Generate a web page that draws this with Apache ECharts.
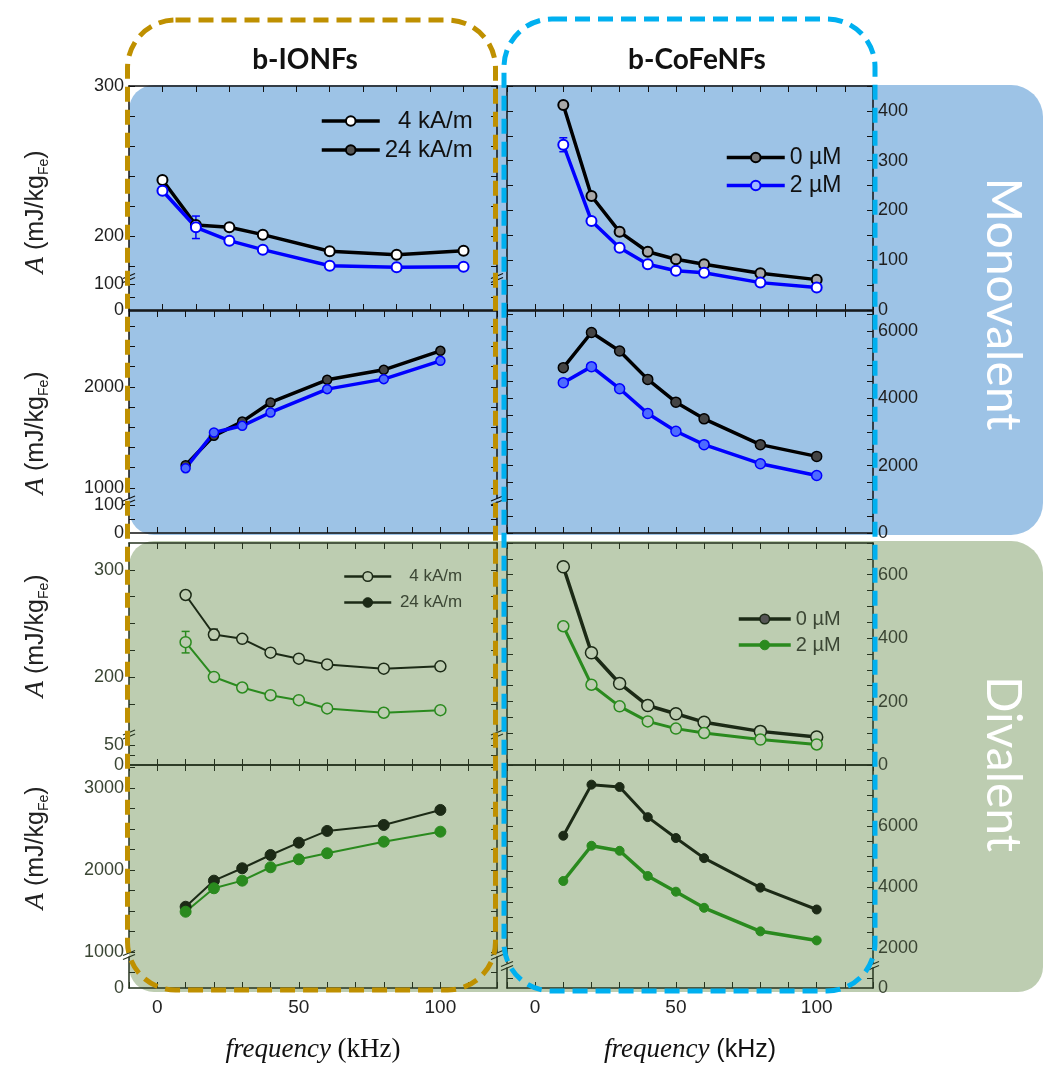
<!DOCTYPE html>
<html><head><meta charset="utf-8">
<script src="https://cdn.jsdelivr.net/npm/echarts@6/dist/echarts.min.js"></script>
<style>html,body{margin:0;padding:0;background:#fff}#c{width:1043px;height:1066px}</style>
</head><body><div id="c"></div>
<script>
// ---------------- DATA ----------------
const freq7 = [10, 20, 30, 40, 60, 80, 100];
const freq8 = [10, 20, 30, 40, 50, 60, 80, 100];
// Monovalent, b-IONFs (top row)
const monoIONF_top_black = [237.3, 207.3, 205.8, 200.9, 189.8, 187.5, 190.2];
const monoIONF_top_blue  = [230.2, 205.8, 196.9, 190.9, 180.2, 179.1, 179.5];
const monoIONF_top_blue_err = [0, 7.5, 0, 0, 0, 0, 0];
// Monovalent, b-CoFeNFs (top row)
const monoCoFe_top_0uM = [412, 229, 157, 117, 102, 92, 74, 61];
const monoCoFe_top_2uM = [332, 179, 125, 92, 79, 75, 55, 45];
const monoCoFe_top_2uM_err = [14, 0, 0, 0, 0, 0, 0, 0];
// Monovalent, b-IONFs (second row)
const monoIONF_bot_black = [1225, 1515, 1656, 1845, 2069, 2168, 2356];
const monoIONF_bot_blue  = [1195, 1548, 1614, 1746, 1977, 2076, 2257];
// Monovalent, b-CoFeNFs (second row)
const monoCoFe_bot_0uM = [4916, 5961, 5412, 4567, 3890, 3394, 2627, 2278];
const monoCoFe_bot_2uM = [4469, 4946, 4290, 3552, 3024, 2627, 2060, 1710];
// Divalent, b-IONFs (third row)
const diIONF_top_black = [276.6, 239.8, 235.8, 222.9, 217.3, 212.0, 208.0, 210.2];
const diIONF_top_black_err = [0, 5, 0, 0, 0, 0, 0, 0];
const diIONF_top_green = [232.7, 200.3, 190.5, 183.3, 178.7, 171.0, 167.0, 169.4];
const diIONF_top_green_err = [10, 0, 0, 0, 0, 0, 0, 0];
// Divalent, b-CoFeNFs (third row)
const diCoFe_top_0uM = [625, 354, 257, 187.5, 161.5, 135, 106, 88.5];
const diCoFe_top_2uM = [437.5, 253, 185, 137.5, 114.7, 101, 80.3, 64.7];
// Divalent, b-IONFs (bottom row)
const diIONF_bot_black = [1552, 1870, 2021, 2183, 2333, 2476, 2549, 2732];
const diIONF_bot_green = [1491, 1777, 1870, 2033, 2130, 2204, 2345, 2467];
// Divalent, b-CoFeNFs (bottom row)
const diCoFe_bot_0uM = [5679, 7355, 7279, 6288, 5603, 4942, 3974, 3256];
const diCoFe_bot_2uM = [4192, 5349, 5183, 4357, 3841, 3312, 2539, 2241];

// tick / label values
const xTickLabels = [0, 50, 100];
const r1L_upTicks = [180, 200, 220, 240, 260, 280, 300], r1L_upLabels = [200, 300];
const r1L_loTicks = [50, 100], r1L_loLabels = [0, 100];
const r1R_ticks = [0, 50, 100, 150, 200, 250, 300, 350, 400, 450], r1R_labels = [0, 100, 200, 300, 400];
const r2L_upTicks = [1000, 1200, 1400, 1600, 1800, 2000, 2200, 2400, 2600], r2L_upLabels = [1000, 2000];
const r2L_loTicks = [50, 100], r2L_loLabels = [0, 100];
const r2R_ticks = [0, 500, 1000, 1500, 2000, 2500, 3000, 3500, 4000, 4500, 5000, 5500, 6000, 6500], r2R_labels = [0, 2000, 4000, 6000];
const r3L_upTicks = [175, 200, 225, 250, 275, 300], r3L_upLabels = [200, 300];
const r3L_loTicks = [25, 50], r3L_loLabels = [0, 50];
const r3R_ticks = [0, 50, 100, 150, 200, 250, 300, 350, 400, 450, 500, 550, 600, 650, 700], r3R_labels = [0, 200, 400, 600];
const r4L_upTicks = [1000, 1250, 1500, 1750, 2000, 2250, 2500, 2750, 3000, 3250], r4L_upLabels = [1000, 2000, 3000];
const r4L_loTicks = [500], r4L_loLabels = [0];
const r4R_upTicks = [2000, 2500, 3000, 3500, 4000, 4500, 5000, 5500, 6000, 6500, 7000, 7500, 8000], r4R_upLabels = [2000, 4000, 6000];
const r4R_loTicks = [500], r4R_loLabels = [0];

const legendText = {
  r1L_a: '4 kA/m', r1L_b: '24 kA/m', r1R_a: '0 \u00b5M', r1R_b: '2 \u00b5M',
  r3L_a: '4 kA/m', r3L_b: '24 kA/m', r3R_a: '0 \u00b5M', r3R_b: '2 \u00b5M'
};

// ---------------- STYLE ----------------
const FONT = 'Liberation Sans';
const C = {
  blueBg: '#9DC3E6', greenBg: '#BDCDB1', gold: '#BF9000', cyan: '#00B0F0',
  axisB: '#111111', labB: '#1e1e1e', axisG: '#26331f', labG: '#3a4533',
  black: '#000000', blue: '#0000FF', dk: '#1c2a16', green: '#2a8a1e'
};
const colL = {left: 129, width: 368}, colR = {left: 507, width: 366};
const plain = v => String(v);

const grids = [], xAxes = [], yAxes = [], series = [];
function addGrid(col, top, h) { grids.push({left: col.left, top: top, width: col.width, height: h}); return grids.length - 1; }
function addX(g, pos, xr, th, labels) {
  xAxes.push({type: 'value', gridIndex: g, position: pos, min: xr[0], max: xr[1], interval: 10,
    axisLine: {show: true, onZero: false, lineStyle: {color: th.axis, width: 1.5}},
    axisTick: {show: true, inside: true, length: 6, lineStyle: {color: th.axis, width: 1}},
    axisLabel: labels ? {show: true, customValues: labels, formatter: plain, color: '#222', fontSize: 19, fontFamily: FONT, margin: 10} : {show: false},
    splitLine: {show: false}});
  return xAxes.length - 1;
}
function addY(g, pos, s, th, showLabels) {
  yAxes.push({type: 'value', gridIndex: g, position: pos, min: s.min, max: s.max,
    axisLine: {show: true, onZero: false, lineStyle: {color: th.axis, width: 1.5}},
    axisTick: {show: true, inside: true, length: 6, customValues: s.ticks, lineStyle: {color: th.axis, width: 1}},
    axisLabel: showLabels ? {show: true, customValues: s.labels, formatter: plain, color: th.lab, fontSize: 18, fontFamily: FONT, margin: 5} : {show: false},
    splitLine: {show: false}});
  return yAxes.length - 1;
}
function makePanel(p) {
  const th = p.theme === 'B' ? {axis: C.axisB, lab: C.labB} : {axis: C.axisG, lab: C.labG};
  const segs = p.lower ? [p.upper, p.lower] : [p.upper];
  const res = {};
  segs.forEach((s, si) => {
    const g = addGrid(p.col, s.top, s.h);
    const isTop = si === 0, isBottom = si === segs.length - 1;
    if (isTop) res.x = addX(g, 'top', p.x, th, null);
    if (isBottom) addX(g, 'bottom', p.x, th, p.xLabels ? xTickLabels : null);
    const yl = addY(g, 'left', s, th, p.labelSide === 'left');
    addY(g, 'right', s, th, p.labelSide === 'right');
    if (isTop) res.y = yl;
  });
  return res;
}
function addLine(ax, name, xs, ys, st) {
  series.push({type: 'line', name: name, xAxisIndex: ax.x, yAxisIndex: ax.y,
    data: xs.map((x, i) => [x, ys[i]]),
    symbol: 'circle', symbolSize: st.size, z: 3,
    lineStyle: {color: st.line, width: st.lw},
    itemStyle: {color: st.fill, borderColor: st.border, borderWidth: st.bw},
    emphasis: {disabled: true}, animation: false});
}
function addErr(ax, xs, ys, es, color) {
  const d = [];
  xs.forEach((x, i) => { if (es[i] > 0) d.push([x, ys[i], es[i]]); });
  series.push({type: 'custom', xAxisIndex: ax.x, yAxisIndex: ax.y, z: 2, silent: true, data: d,
    renderItem: (params, api) => {
      const lo = api.coord([api.value(0), api.value(1) - api.value(2)]);
      const hi = api.coord([api.value(0), api.value(1) + api.value(2)]);
      const st = {stroke: color, lineWidth: 1.5};
      return {type: 'group', children: [
        {type: 'line', shape: {x1: lo[0], y1: lo[1], x2: hi[0], y2: hi[1]}, style: st},
        {type: 'line', shape: {x1: lo[0] - 4, y1: lo[1], x2: lo[0] + 4, y2: lo[1]}, style: st},
        {type: 'line', shape: {x1: hi[0] - 4, y1: hi[1], x2: hi[0] + 4, y2: hi[1]}, style: st}]};
    }});
}

// ---------------- PANELS ----------------
const p1L = makePanel({col: colL, theme: 'B', x: [0, 110], labelSide: 'left',
  upper: {top: 86, h: 189, min: 174, max: 300, ticks: r1L_upTicks, labels: r1L_upLabels},
  lower: {top: 280, h: 30, min: 0, max: 115, ticks: r1L_loTicks, labels: r1L_loLabels}});
const p1R = makePanel({col: colR, theme: 'B', x: [-10, 120], labelSide: 'right',
  upper: {top: 86, h: 224, min: 0, max: 450, ticks: r1R_ticks, labels: r1R_labels}});
const p2L = makePanel({col: colL, theme: 'B', x: [-10, 120], labelSide: 'left',
  upper: {top: 311, h: 187, min: 900, max: 2750, ticks: r2L_upTicks, labels: r2L_upLabels},
  lower: {top: 502, h: 31, min: 0, max: 110, ticks: r2L_loTicks, labels: r2L_loLabels}});
const p2R = makePanel({col: colR, theme: 'B', x: [-10, 120], labelSide: 'right',
  upper: {top: 311, h: 222, min: 0, max: 6600, ticks: r2R_ticks, labels: r2R_labels}});
const p3L = makePanel({col: colL, theme: 'G', x: [-10, 120], labelSide: 'left',
  upper: {top: 543, h: 188, min: 150, max: 325, ticks: r3L_upTicks, labels: r3L_upLabels},
  lower: {top: 737, h: 28, min: 0, max: 70, ticks: r3L_loTicks, labels: r3L_loLabels}});
const p3R = makePanel({col: colR, theme: 'G', x: [-10, 120], labelSide: 'right',
  upper: {top: 543, h: 222, min: 0, max: 700, ticks: r3R_ticks, labels: r3R_labels}});
const p4L = makePanel({col: colL, theme: 'G', x: [-10, 120], labelSide: 'left', xLabels: true,
  upper: {top: 765, h: 187, min: 1000, max: 3280, ticks: r4L_upTicks, labels: r4L_upLabels},
  lower: {top: 957, h: 31, min: 0, max: 1000, ticks: r4L_loTicks, labels: r4L_loLabels}});
const p4R = makePanel({col: colR, theme: 'G', x: [-10, 120], labelSide: 'right', xLabels: true,
  upper: {top: 765, h: 198, min: 1500, max: 8000, ticks: r4R_upTicks, labels: r4R_upLabels},
  lower: {top: 968, h: 20, min: 0, max: 1000, ticks: r4R_loTicks, labels: r4R_loLabels}});

addErr(p1L, freq7, monoIONF_top_blue, monoIONF_top_blue_err, C.blue);
addErr(p1R, freq8, monoCoFe_top_2uM, monoCoFe_top_2uM_err, C.blue);
addErr(p3L, freq8, diIONF_top_black, diIONF_top_black_err, C.dk);
addErr(p3L, freq8, diIONF_top_green, diIONF_top_green_err, C.green);

addLine(p1L, 'r1L_a', freq7, monoIONF_top_black, {line: C.black, lw: 3.5, size: 10, fill: '#ffffff', border: C.black, bw: 2});
addLine(p1L, 'r1L_b', freq7, monoIONF_top_blue, {line: C.blue, lw: 3.5, size: 10, fill: '#ffffff', border: C.blue, bw: 2});
addLine(p1R, 'r1R_a', freq8, monoCoFe_top_0uM, {line: C.black, lw: 3.5, size: 10, fill: '#a8a8a8', border: C.black, bw: 2});
addLine(p1R, 'r1R_b', freq8, monoCoFe_top_2uM, {line: C.blue, lw: 3.5, size: 10, fill: '#ffffff', border: C.blue, bw: 2});
addLine(p2L, 'r2L_a', freq7, monoIONF_bot_black, {line: C.black, lw: 3.5, size: 9, fill: '#444444', border: C.black, bw: 1.5});
addLine(p2L, 'r2L_b', freq7, monoIONF_bot_blue, {line: C.blue, lw: 3.5, size: 9, fill: '#4d6bff', border: C.blue, bw: 1.5});
addLine(p2R, 'r2R_a', freq8, monoCoFe_bot_0uM, {line: C.black, lw: 3.5, size: 10, fill: '#444444', border: C.black, bw: 1.5});
addLine(p2R, 'r2R_b', freq8, monoCoFe_bot_2uM, {line: C.blue, lw: 3.5, size: 10, fill: '#4d6bff', border: C.blue, bw: 1.5});
addLine(p3L, 'r3L_a', freq8, diIONF_top_black, {line: C.dk, lw: 2, size: 11, fill: C.greenBg, border: C.dk, bw: 1.5});
addLine(p3L, 'r3L_b', freq8, diIONF_top_green, {line: C.green, lw: 2, size: 11, fill: C.greenBg, border: C.green, bw: 1.5});
addLine(p3R, 'r3R_a', freq8, diCoFe_top_0uM, {line: C.dk, lw: 3.5, size: 12, fill: C.greenBg, border: C.dk, bw: 1.5});
addLine(p3R, 'r3R_b', freq8, diCoFe_top_2uM, {line: C.green, lw: 3, size: 11, fill: C.greenBg, border: C.green, bw: 1.5});
addLine(p4L, 'r4L_a', freq8, diIONF_bot_black, {line: C.dk, lw: 2, size: 11, fill: C.dk, border: C.dk, bw: 1});
addLine(p4L, 'r4L_b', freq8, diIONF_bot_green, {line: C.green, lw: 2, size: 11, fill: C.green, border: C.green, bw: 1});
addLine(p4R, 'r4R_a', freq8, diCoFe_bot_0uM, {line: C.dk, lw: 3, size: 9, fill: C.dk, border: C.dk, bw: 1});
addLine(p4R, 'r4R_b', freq8, diCoFe_bot_2uM, {line: C.green, lw: 3.5, size: 9, fill: C.green, border: C.green, bw: 1});

// ---------------- LEGENDS ----------------
function mkLegend(left, top, iw, fs, lh, gap, color, textW, items) {
  return {left: left, top: top, orient: 'vertical', itemWidth: iw, itemHeight: 12, itemGap: gap,
    selectedMode: false, padding: 0,
    formatter: n => '{t|' + legendText[n] + '}',
    textStyle: {color: color, fontFamily: FONT, fontSize: fs,
      rich: {t: {fontSize: fs, fontFamily: FONT, color: color, lineHeight: lh, width: textW, align: textW ? 'right' : 'left'}}},
    data: items};
}
const legends = [
  mkLegend(320, 109, 58, 24, 26, 5, '#111', 88, [
    {name: 'r1L_a', itemStyle: {color: '#fff', borderColor: '#000', borderWidth: 2}, lineStyle: {color: '#000', width: 3.5}},
    {name: 'r1L_b', itemStyle: {color: '#555', borderColor: '#000', borderWidth: 2}, lineStyle: {color: '#000', width: 3.5}}]),
  mkLegend(725, 146, 58, 23, 25, 5, '#111', 0, [
    {name: 'r1R_a', itemStyle: {color: '#777', borderColor: '#000', borderWidth: 2}, lineStyle: {color: '#000', width: 3.5}},
    {name: 'r1R_b', itemStyle: {color: '#9db8ff', borderColor: C.blue, borderWidth: 2}, lineStyle: {color: C.blue, width: 3.5}}]),
  mkLegend(343, 568, 47, 17, 19, 9, '#3b4634', 66, [
    {name: 'r3L_a', itemStyle: {color: C.greenBg, borderColor: C.dk, borderWidth: 1.5}, lineStyle: {color: C.dk, width: 2.5}},
    {name: 'r3L_b', itemStyle: {color: C.dk, borderColor: C.dk, borderWidth: 1}, lineStyle: {color: C.dk, width: 2.5}}]),
  mkLegend(737, 609, 52, 20, 22, 6, '#3b4634', 0, [
    {name: 'r3R_a', itemStyle: {color: '#555', borderColor: C.dk, borderWidth: 1.5}, lineStyle: {color: C.dk, width: 3.5}},
    {name: 'r3R_b', itemStyle: {color: C.green, borderColor: C.green, borderWidth: 1}, lineStyle: {color: C.green, width: 3.5}}])
];

// ---------------- GRAPHICS ----------------
function breakMarks(x, y, color) {
  return [
    {type: 'line', z: 50, shape: {x1: x - 6, y1: y + 1, x2: x + 6, y2: y - 4}, style: {stroke: color, lineWidth: 1.2}},
    {type: 'line', z: 50, shape: {x1: x - 6, y1: y + 5, x2: x + 6, y2: y}, style: {stroke: color, lineWidth: 1.2}}
  ];
}
const yTitle = (cy) => ({type: 'text', z: 60, x: 36, y: cy, rotation: Math.PI / 2,
  style: {text: '{a|A}{b| (mJ/kg}{s|Fe}{b|)}', align: 'center', verticalAlign: 'middle', fill: '#222',
    rich: {a: {fontFamily: 'Liberation Serif', fontStyle: 'italic', fontSize: 27, lineHeight: 30, fill: '#222'},
      b: {fontFamily: FONT, fontSize: 25, lineHeight: 30, fill: '#222'},
      s: {fontFamily: FONT, fontSize: 14, lineHeight: 12, verticalAlign: 'bottom', fill: '#222'}}}});
const xTitle = (cx, sans) => ({type: 'text', z: 60, x: cx, y: 1050,
  style: {text: '{i|frequency}{n| (kHz)}', align: 'center', verticalAlign: 'middle',
    rich: {i: {fontFamily: 'Liberation Serif', fontStyle: 'italic', fontSize: 27, fill: '#111'},
      n: {fontFamily: sans ? FONT : 'Liberation Serif', fontSize: sans ? 25 : 27, fill: '#111'}}}});

const graphics = [
  {type: 'rect', z: -10, shape: {x: 129, y: 85, width: 914, height: 450, r: [25, 32, 32, 25]}, style: {fill: C.blueBg}},
  {type: 'rect', z: -10, shape: {x: 129, y: 541, width: 914, height: 451, r: [25, 32, 25, 25]}, style: {fill: C.greenBg}},
  {type: 'rect', z: 80, shape: {x: 127.5, y: 20, width: 368, height: 970, r: 48}, style: {fill: 'none', stroke: C.gold, lineWidth: 5, lineDash: [15, 8]}},
  {type: 'rect', z: 81, shape: {x: 504, y: 19, width: 371, height: 972, r: 48}, style: {fill: 'none', stroke: C.cyan, lineWidth: 5, lineDash: [15, 8]}},
  {type: 'text', z: 60, x: 305, y: 60, style: {text: 'b-IONFs', align: 'center', verticalAlign: 'middle', fontFamily: 'Lato', fontWeight: 'bold', fontSize: 28, fill: '#111'}},
  {type: 'text', z: 60, x: 697, y: 60, style: {text: 'b-CoFeNFs', align: 'center', verticalAlign: 'middle', fontFamily: 'Lato', fontWeight: 'bold', fontSize: 28, fill: '#111'}},
  {type: 'text', z: 60, x: 1002, y: 304, rotation: -Math.PI / 2, style: {text: 'Monovalent', align: 'center', verticalAlign: 'middle', fontFamily: 'Lato', fontSize: 48, fill: '#ffffff'}},
  {type: 'text', z: 60, x: 1002, y: 764, rotation: -Math.PI / 2, style: {text: 'Divalent', align: 'center', verticalAlign: 'middle', fontFamily: 'Lato', fontSize: 48, fill: '#ffffff'}},
  yTitle(212), yTitle(433), yTitle(636), yTitle(848),
  xTitle(313, false), xTitle(690, true)
].concat(
  breakMarks(129, 277.5, C.axisB), breakMarks(497, 277.5, C.axisB),
  breakMarks(129, 500, C.axisB), breakMarks(497, 500, C.axisB),
  breakMarks(129, 734, C.axisG), breakMarks(497, 734, C.axisG),
  breakMarks(129, 954.5, C.axisG), breakMarks(497, 954.5, C.axisG),
  breakMarks(507, 965.5, C.axisG), breakMarks(873, 965.5, C.axisG)
);

const chart = echarts.init(document.getElementById('c'), null, {renderer: 'canvas'});
chart.setOption({
  animation: false,
  backgroundColor: '#ffffff',
  grid: grids, xAxis: xAxes, yAxis: yAxes, series: series,
  legend: legends, graphic: {elements: graphics},
  tooltip: {show: false}
});
</script>
</body></html>
